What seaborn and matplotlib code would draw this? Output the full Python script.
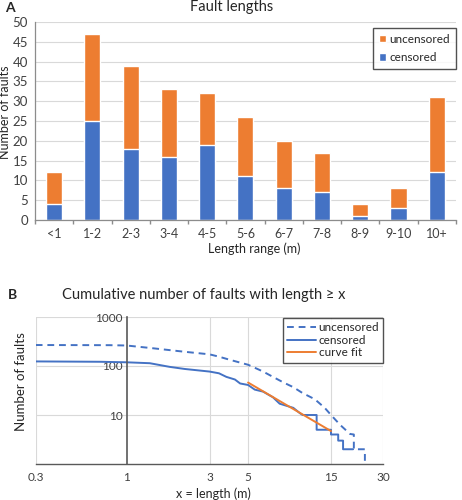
import numpy as np
import pandas as pd
import matplotlib
matplotlib.use("Agg")
import matplotlib.pyplot as plt
from matplotlib.ticker import FixedLocator, NullFormatter, NullLocator
import seaborn as sns

# Panel A: fault counts per length range
categories = ["<1", "1-2", "2-3", "3-4", "4-5", "5-6", "6-7", "7-8", "8-9", "9-10", "10+"]
censored = [4, 25, 18, 16, 19, 11, 8, 7, 1, 3, 12]
uncensored = [8, 22, 21, 17, 13, 15, 12, 10, 3, 5, 19]

# Panel B: cumulative number of faults with length >= x
cum_unc_x = [0.3, 0.8, 1.0, 1.42, 2.16, 3.0, 3.4, 3.95, 5.0, 5.7, 6.1, 6.95, 8.0, 9.1,
             10.3, 12.1, 13.8, 15.2, 17.0, 19.3, 20.3, 20.3, 23.5, 23.5]
cum_unc_y = [268, 266, 262, 230, 195, 173, 155, 133, 106, 86, 77, 60, 46, 37,
             28, 21, 14, 9.5, 6.2, 4.1, 4.0, 2.0, 2.0, 1.0]
cum_cen_x = [0.3, 0.7, 1.0, 1.36, 1.77, 2.16, 3.0, 3.4, 3.75, 4.2, 4.5, 5.0, 5.46, 6.1,
             6.95, 7.6, 9.1, 9.9, 10.3, 12.4, 12.4, 15.0, 15.0, 16.5, 16.5, 17.6, 17.6, 20.1]
cum_cen_y = [124, 122, 119, 114, 96, 87, 77, 71, 60, 53, 44, 41, 33, 30,
             23, 17, 14, 11, 10, 10, 5, 5, 4, 4, 3, 3, 2, 2]
fit_x = [5, 15]
fit_y = [46, 4.7]

BLUE = "#4472C4"
ORANGE = "#ED7D31"
GRID = "#D9D9D9"
AXIS = "#8C8C8C"

sns.set_theme(style="white")
plt.rcParams["font.family"] = ["Lato", "DejaVu Sans"]
plt.rcParams["text.color"] = "#262626"
plt.rcParams["xtick.color"] = "#404040"
plt.rcParams["ytick.color"] = "#404040"

fig = plt.figure(figsize=(4.62, 5.0), dpi=100)

# ---------- Panel A ----------
ax1 = fig.add_axes([0.0758, 0.56, 0.911, 0.396])
totals = [c + u for c, u in zip(censored, uncensored)]
df = pd.DataFrame({"range": categories, "total": totals, "censored": censored})
sns.barplot(data=df, x="range", y="total", color=ORANGE, width=0.42, saturation=1,
            ax=ax1, label="uncensored")
sns.barplot(data=df, x="range", y="censored", color=BLUE, width=0.42, saturation=1,
            ax=ax1, label="censored")
ax1.set_xlim(-0.5, len(categories) - 0.5)
ax1.set_ylim(0, 50)
ax1.set_yticks(range(0, 51, 5))
ax1.yaxis.grid(True, color=GRID, linewidth=0.8)
ax1.set_axisbelow(True)
for s in ["top", "right"]:
    ax1.spines[s].set_visible(False)
for s in ["left", "bottom"]:
    ax1.spines[s].set_color(AXIS)
    ax1.spines[s].set_linewidth(0.9)
ax1.tick_params(axis="y", length=3, color=AXIS, labelsize=9.5, pad=2)
ax1.tick_params(axis="x", which="major", length=0, labelsize=9, pad=6)
ax1.xaxis.set_minor_locator(FixedLocator(np.arange(-0.5, len(categories), 1.0)))
ax1.tick_params(axis="x", which="minor", length=3, color=AXIS, bottom=True)
ax1.set_xlabel("Length range (m)", fontsize=9)
ax1.xaxis.set_label_coords(0.52, -0.115)
ax1.set_ylabel("Number of faults", fontsize=9)
ax1.yaxis.set_label_coords(-0.057, 0.545)
leg1 = ax1.legend(loc="upper right", bbox_to_anchor=(1.0, 0.97), fontsize=8.5,
                  frameon=True, fancybox=False, handlelength=0.6, handleheight=0.6,
                  handletextpad=0.25, borderpad=0.5, labelspacing=0.6,
                  borderaxespad=0.0)
leg1.get_frame().set_edgecolor("#262626")
leg1.get_frame().set_linewidth(1.0)
fig.text(0.502, 0.985, "Fault lengths", ha="center", va="center", fontsize=10.5)
fig.text(0.011, 0.985, "A", ha="left", va="center", fontsize=10, fontweight="bold")

# ---------- Panel B ----------
ax2 = fig.add_axes([0.0773, 0.072, 0.7524, 0.294])
sns.lineplot(x=cum_unc_x, y=cum_unc_y, estimator=None, sort=False, color=BLUE,
             linewidth=1.4, dashes=False, linestyle=(0, (3.5, 2.5)), ax=ax2, label="uncensored")
sns.lineplot(x=cum_cen_x, y=cum_cen_y, estimator=None, sort=False, color=BLUE,
             linewidth=1.4, ax=ax2, label="censored")
sns.lineplot(x=fit_x, y=fit_y, estimator=None, sort=False, color=ORANGE,
             linewidth=1.4, ax=ax2, label="curve fit")
ax2.set_xscale("log")
ax2.set_yscale("log")
ax2.set_xlim(0.3, 30)
ax2.set_ylim(1, 1000)
ax2.xaxis.set_major_locator(FixedLocator([0.3, 1, 3, 5, 15, 30]))
ax2.xaxis.set_minor_locator(NullLocator())
ax2.set_xticklabels(["0.3", "1", "3", "5", "15", "30"])
ax2.yaxis.set_major_locator(FixedLocator([10, 100, 1000]))
ax2.yaxis.set_minor_locator(NullLocator())
ax2.set_yticklabels(["10", "100", "1000"])
ax2.yaxis.set_minor_formatter(NullFormatter())
for v in [0.3, 3, 5, 15, 30]:
    ax2.axvline(v, color=GRID, linewidth=0.8, zorder=0)
for v in [10, 100, 1000]:
    ax2.axhline(v, color=GRID, linewidth=0.8, zorder=0)
for s in ["top", "right"]:
    ax2.spines[s].set_visible(False)
ax2.spines["left"].set_position(("data", 1))
ax2.spines["left"].set_color("#595959")
ax2.spines["left"].set_linewidth(1.2)
ax2.spines["bottom"].set_color("#595959")
ax2.spines["bottom"].set_linewidth(1.0)
ax2.tick_params(axis="y", length=0, labelsize=8.5, pad=3)
ax2.tick_params(axis="x", length=3, color="#595959", labelsize=8.5, pad=3)
ax2.set_xlabel("x = length (m)", fontsize=9)
ax2.xaxis.set_label_coords(0.51, -0.16)
ax2.set_ylabel("Number of faults", fontsize=9.5)
ax2.yaxis.set_label_coords(-0.026, 0.56)
leg2 = ax2.legend(loc="upper right", bbox_to_anchor=(1.0, 0.995), fontsize=8.5,
                  frameon=True, fancybox=False, handlelength=2.5, handletextpad=0.2,
                  borderpad=0.35, labelspacing=0.15, borderaxespad=0)
leg2.get_frame().set_edgecolor("#262626")
leg2.get_frame().set_linewidth(1.0)
fig.text(0.44, 0.41, "Cumulative number of faults with length \u2265 x", ha="center",
         va="center", fontsize=10.5)
fig.text(0.017, 0.41, "B", ha="left", va="center", fontsize=10, fontweight="bold")

fig.savefig("out.png", dpi=100)
